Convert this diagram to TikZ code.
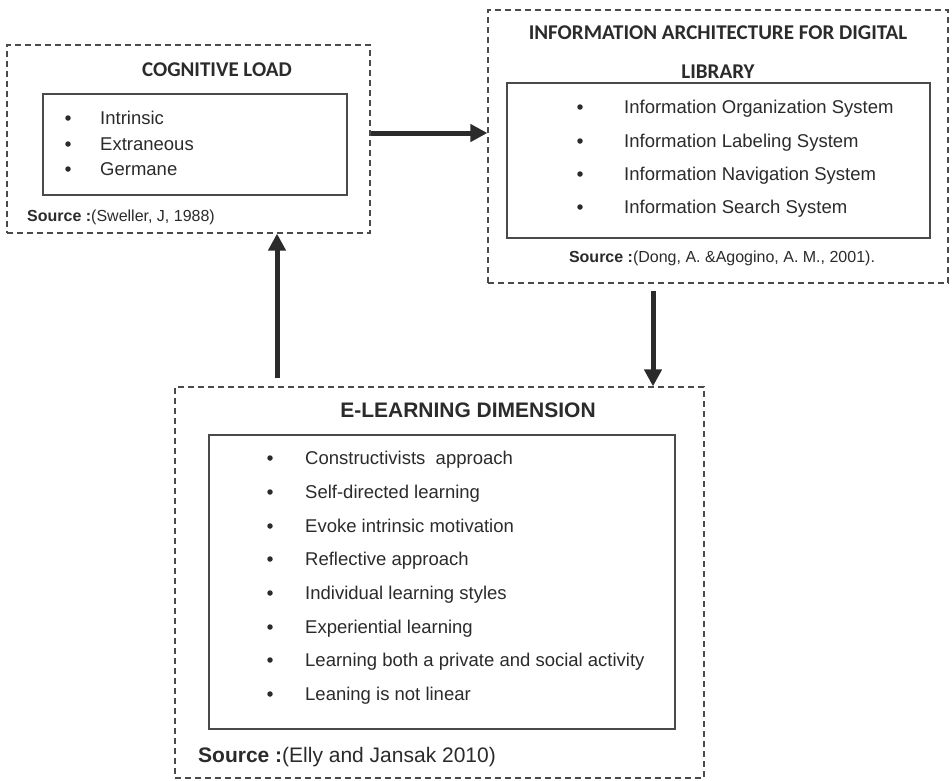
\documentclass[tikz,border=0pt]{standalone}
\usepackage{fontspec}
\setmainfont{Liberation Sans}
\newfontfamily\calib{Carlito}
\usetikzlibrary{arrows.meta}
\definecolor{ink}{HTML}{2B2B2B}
\definecolor{frame}{HTML}{4A4A4A}
\begin{document}
\begin{tikzpicture}[x=1pt,y=-1pt,
  outerbox/.style={draw=frame, dash pattern=on 6pt off 4pt, line width=1.2pt, inner sep=0pt},
  innerbox/.style={draw=frame, line width=1.5pt, inner sep=0pt},
  item/.style={anchor=base west, inner sep=0pt, text=ink, font=\fontsize{18.5}{22}\selectfont},
  bul/.style={circle, fill=ink, inner sep=0pt, minimum size=5.5pt},
  ctitle/.style={inner sep=0pt, text=ink, font=\calib\bfseries\fontsize{21}{25}\selectfont},
  atitle/.style={inner sep=0pt, text=ink, font=\bfseries\fontsize{21}{25}\selectfont},
  srcs/.style={inner sep=0pt, text=ink, font=\fontsize{16}{19}\selectfont},
  conn/.style={draw=ink, line width=5pt, -{Triangle[length=17pt,width=17pt]}}]
\useasboundingbox[fill=white] (0,0) rectangle (952,780);

% Cognitive load
\node[outerbox, minimum width=363pt, minimum height=188pt] (cl) at (188.5,139) {};
\node[innerbox, minimum width=304pt, minimum height=101pt] (cli) at (195,144.5) {};
\node[ctitle] (clt) at (217,70) {COGNITIVE LOAD};
\foreach \t/\y [count=\i] in {Intrinsic/118, Extraneous/144, Germane/169}{
  \node[bul] (clb\i) at (68,\y) {};
  \node[item] (cl\i) at (100,\y+6.5) {\t};
}
\node[srcs, anchor=base west] (cls) at (27,221) {\textbf{Source :}(Sweller, J, 1988)};

% Information architecture
\node[outerbox, minimum width=460pt, minimum height=273pt] (ia) at (718,146.5) {};
\node[innerbox, minimum width=423pt, minimum height=155pt] (iai) at (718.5,160.5) {};
\node[ctitle] (iat1) at (718,33) {INFORMATION ARCHITECTURE FOR DIGITAL};
\node[ctitle] (iat2) at (718,72) {LIBRARY};
\foreach \t/\y [count=\i] in {Information Organization System/107, Information Labeling System/141, Information Navigation System/174, Information Search System/207}{
  \node[bul] (iab\i) at (580,\y) {};
  \node[item] (ia\i) at (624,\y+6.5) {\t};
}
\node[srcs, anchor=base] (ias) at (722,262.5) {\textbf{Source :}(Dong, A. \&Agogino, A. M., 2001).};

% E-learning dimension
\node[outerbox, minimum width=529pt, minimum height=391pt] (el) at (439.5,582.5) {};
\node[innerbox, minimum width=466pt, minimum height=294pt] (eli) at (442,582) {};
\node[atitle] (elt) at (468,410) {E-LEARNING DIMENSION};
\foreach \t/\y [count=\i] in {Constructivists\ \ approach/458, Self-directed learning/492, Evoke intrinsic motivation/526, Reflective approach/559, Individual learning styles/593, Experiential learning/627, Learning both a private and social activity/660, Leaning is not linear/694}{
  \node[bul] (elb\i) at (270,\y) {};
  \node[item] (el\i) at (305,\y+6.5) {\t};
}
\node[srcs, anchor=base west, font=\fontsize{21}{25}\selectfont] (els) at (198,762.5) {\textbf{Source :}(Elly and Jansak 2010)};

% connectors
\coordinate (upx) at (277,0);
\coordinate (dnx) at (653,0);
\draw[conn] ([yshift=6pt]cl.east) -- ([yshift=6pt]cl.east -| ia.west);
\draw[conn] ([yshift=8pt]el.north -| upx) -- (cl.south -| upx);
\draw[conn] ([yshift=-7pt]ia.south -| dnx) -- (el.north -| dnx);
\end{tikzpicture}
\end{document}
